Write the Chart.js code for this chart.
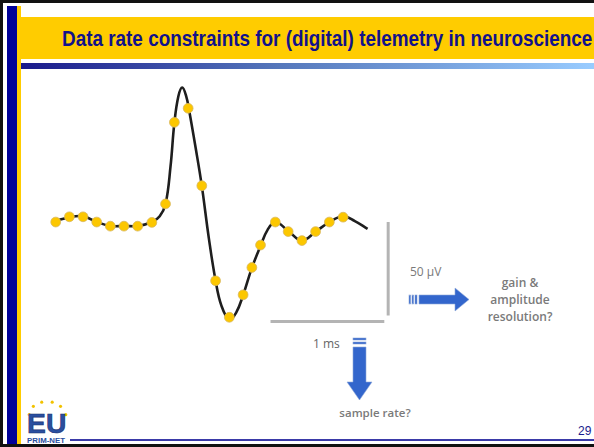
<!DOCTYPE html>
<html lang="en">
<head>
  <meta charset="UTF-8">
  <title>Data rate constraints for (digital) telemetry in neuroscience</title>
  <script src="https://cdn.jsdelivr.net/npm/chart.js"></script>
  <style>
    html, body { margin: 0; padding: 0; background: #fff; }
    #slide { position: relative; width: 594px; height: 447px; overflow: hidden; background: #fff; font-family: "Open Sans", sans-serif; }
    .abs { position: absolute; }
    #borderTop { left: 0; top: 0; width: 594px; height: 3px; background: #111; }
    #borderLeft { left: 0; top: 0; width: 3px; height: 447px; background: #111; }
    #borderBottom { left: 0; top: 444px; width: 594px; height: 3px; background: #111; }
    #navyBar { left: 7px; top: 6px; width: 10px; height: 438px; background: #000099; }
    #yellowBar { left: 17px; top: 6px; width: 4px; height: 438px; background: #ffcc00; }
    #titleBand { left: 21px; top: 17px; width: 573px; height: 42px; background: #ffcc00; }
    #gradBar { left: 21px; top: 63px; width: 573px; height: 6px; background: linear-gradient(to right, #1a1a8c, #5577bb 45%, #99ccff); }
    #title { left: 62px; top: 26px; font-family: "Liberation Sans Narrow", "Liberation Sans", sans-serif; font-weight: bold; font-size: 22px; color: #12128a; white-space: nowrap; transform-origin: 0 0; line-height: 25px; }
    #footLine { left: 70px; top: 439px; width: 524px; height: 2px; background: #3a3aa8; }
    #pageNo { left: 578px; top: 424px; font-family: "Liberation Sans", sans-serif; font-size: 12px; color: #1a1a8c; }
    .lbl { color: #7a7a7a; font-size: 12px; white-space: nowrap; }
    .bold { font-weight: 600; text-align: center; line-height: 17px; }
    #chart { position: absolute; left: 0; top: 0; }
    #logo { left: 25px; top: 400px; width: 46px; height: 44px; }
  </style>
</head>
<body>
<div id="slide">
  <div class="abs" id="navyBar"></div>
  <div class="abs" id="yellowBar"></div>
  <div class="abs" id="titleBand"></div>
  <div class="abs" id="gradBar"></div>
  <div class="abs" id="title">Data rate constraints for (digital) telemetry in neuroscience</div>

  <div class="abs lbl" style="left:410px; top:263px;">50 &micro;V</div>
  <div class="abs lbl bold" style="left:470px; top:274px; width:100px;">gain &amp;<br>amplitude<br>resolution?</div>
  <div class="abs lbl" style="left:313px; top:335px; color:#666;">1 ms</div>
  <div class="abs lbl bold" style="left:315px; top:404px; width:120px; font-size:11.5px;">sample rate?</div>

  <svg class="abs" style="left:0; top:0;" width="594" height="447">
    <!-- right arrow -->
    <g fill="#3366cc" stroke="#8fa8d8" stroke-width="0.6">
      <rect x="409" y="295" width="1.6" height="9"/>
      <rect x="412" y="295" width="1.6" height="9"/>
      <rect x="415" y="295" width="2" height="9"/>
      <polygon points="419,295 455,295 455,288 469,299.5 455,311 455,304 419,304"/>
    </g>
    <!-- down arrow -->
    <g fill="#3366cc" stroke="#8fa8d8" stroke-width="0.6">
      <rect x="353" y="338" width="13" height="2"/>
      <rect x="353" y="342" width="13" height="2"/>
      <polygon points="353,347 366,347 366,382 372,382 359.5,400 347,382 353,382"/>
    </g>
  </svg>

  <svg class="abs" id="logo" viewBox="0 0 44 42">
    <g fill="#f2c200">
      <circle cx="8" cy="6" r="1.5"/><circle cx="16" cy="2" r="1.5"/><circle cx="26" cy="2" r="1.5"/>
      <circle cx="34" cy="6" r="1.5"/><circle cx="39" cy="14" r="1.5"/><circle cx="4" cy="14" r="1.5"/>
    </g>
    <text x="2" y="32" font-family="Liberation Sans, sans-serif" font-weight="bold" font-size="27" fill="#2a4fa0" stroke="#1a2f70" stroke-width="0.6">EU</text>
    <text x="2" y="41" font-family="Liberation Sans, sans-serif" font-weight="bold" font-size="7.5" fill="#2a4fa0">PRIM-NET</text>
  </svg>

  <div class="abs" id="footLine"></div>
  <div class="abs" id="pageNo">29</div>
  <div class="abs" id="borderTop"></div>
  <div class="abs" id="borderLeft"></div>
  <div class="abs" id="borderBottom"></div>

  <canvas id="chart" width="594" height="447"></canvas>
</div>

<script>
  // time in ms, voltage in microvolts (0 = resting baseline)
  const traceTimes  = [-0.034, 0.121, 0.241, 0.362, 0.483, 0.603, 0.724, 0.845, 0.914, 0.966, 1.009, 1.043, 1.078, 1.112, 1.147, 1.172, 1.233, 1.284, 1.345, 1.405, 1.457, 1.526, 1.586, 1.647, 1.724, 1.802, 1.862, 1.931, 2.043, 2.164, 2.284, 2.405, 2.526, 2.629, 2.741];
  const traceValues = [0, 2.6, 3.1, 0, -2.1, -2.1, -2.1, 0, 3.1, 9.9, 29.7, 53.1, 67.2, 71.9, 67.2, 59.9, 38.5, 19.3, -8.3, -31.3, -44.8, -52.1, -48.4, -39.1, -24.5, -12.5, -4.2, 0, -4.7, -9.9, -5.2, 0, 3.1, 0.5, -3.6];

  const sampleTimes  = [0, 0.12, 0.24, 0.36, 0.48, 0.60, 0.72, 0.845, 0.965, 1.043, 1.164, 1.284, 1.405, 1.526, 1.647, 1.724, 1.80, 1.93, 2.043, 2.164, 2.284, 2.405, 2.526];
  const sampleValues = [0, 2.8, 2.8, 0, -2.2, -2.2, -2.2, -0.2, 9.7, 53.3, 60.8, 19.4, -31.4, -50.9, -38.9, -24.3, -12.3, 0, -5.1, -9.9, -5.1, 0, 2.6];

  // scale bars: 1 ms horizontal, 50 uV vertical
  const timeBarTimes  = [1.888, 2.888];
  const timeBarValues = [-53.1, -53.1];
  const ampBarTimes   = [2.922, 2.922];
  const ampBarValues  = [0, -50];

  const xRange = [-0.4397, 4.681];
  const yRange = [-117.19, 115.63];

  const pts = (xs, ys) => xs.map((x, i) => ({ x: x, y: ys[i] }));

  // fit the title to the width it has on the slide
  const title = document.getElementById("title");
  const w = title.scrollWidth;
  if (w > 0) title.style.transform = `scaleX(${530 / w})`;

  new Chart(document.getElementById("chart").getContext("2d"), {
    type: "line",
    data: {
      datasets: [
        {
          label: "samples",
          data: pts(sampleTimes, sampleValues),
          showLine: false,
          pointRadius: 4.9,
          pointBackgroundColor: "#fcc700",
          pointBorderColor: "#d8b860",
          pointBorderWidth: 0.8
        },
        {
          label: "trace",
          data: pts(traceTimes, traceValues),
          borderColor: "#1e1e1e",
          borderWidth: 2.6,
          tension: 0.4,
          pointRadius: 0
        },
        {
          label: "1 ms",
          data: pts(timeBarTimes, timeBarValues),
          borderColor: "#b4b4b4",
          borderWidth: 3,
          pointRadius: 0
        },
        {
          label: "50 uV",
          data: pts(ampBarTimes, ampBarValues),
          borderColor: "#b4b4b4",
          borderWidth: 3,
          pointRadius: 0
        }
      ]
    },
    options: {
      responsive: false,
      animation: false,
      layout: { padding: 0 },
      plugins: { legend: { display: false }, tooltip: { enabled: false } },
      scales: {
        x: { type: "linear", min: xRange[0], max: xRange[1], display: false },
        y: { type: "linear", min: yRange[0], max: yRange[1], display: false }
      }
    }
  });
</script>
</body>
</html>
